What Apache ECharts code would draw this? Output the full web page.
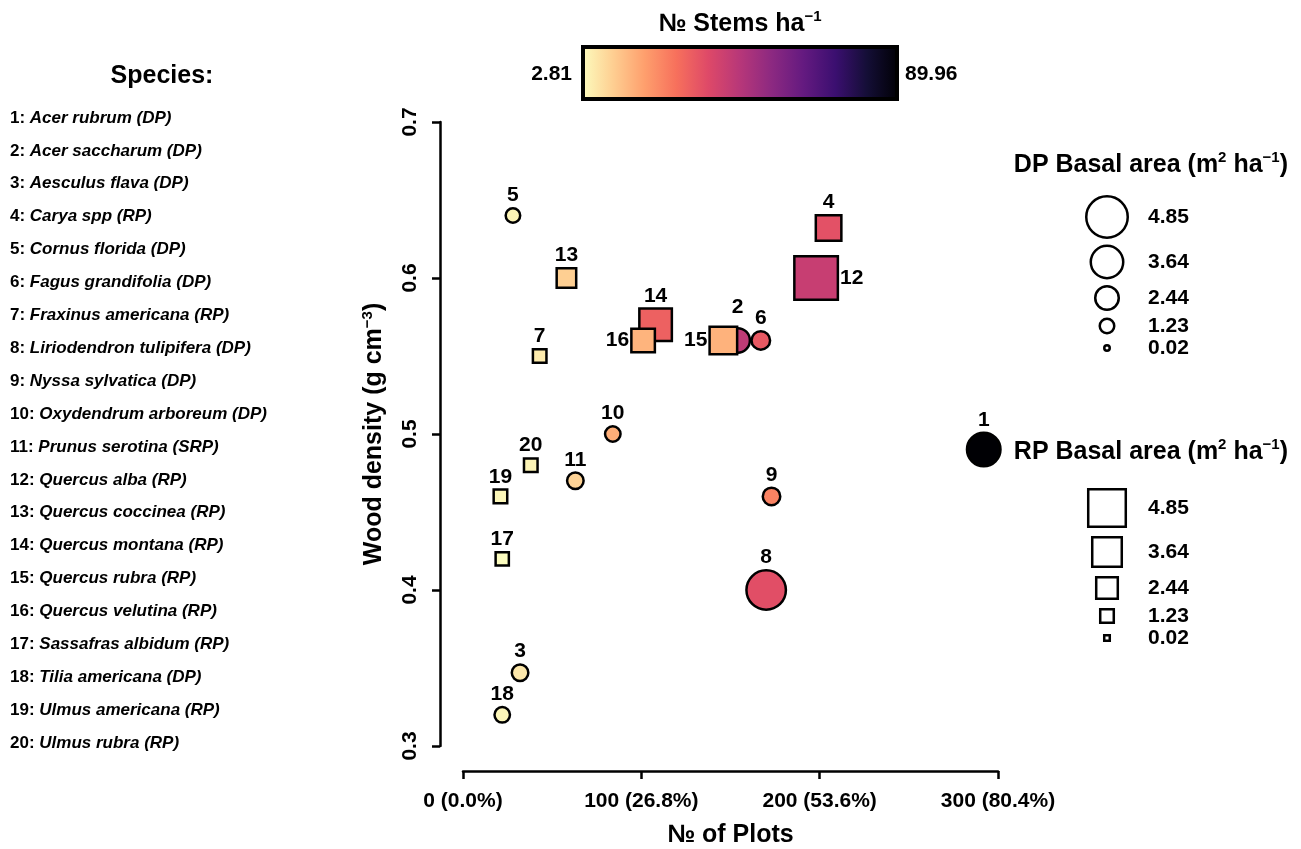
<!doctype html>
<html lang="en">
<head>
  <meta charset="UTF-8">
  <script src="https://cdn.jsdelivr.net/npm/echarts@6/dist/echarts.min.js"></script>
  <title>Wood density</title>
  <style type="text/css">
    html, body { margin: 0; padding: 0; background: #ffffff; }
    #canvas { width: 1301px; height: 849px; }
  </style>
</head>
<body>
<div id="canvas"></div>

<script type="text/javascript">
  // data
  const species = ['Acer rubrum', 'Acer saccharum', 'Aesculus flava', 'Carya spp', 'Cornus florida',
    'Fagus grandifolia', 'Fraxinus americana', 'Liriodendron tulipifera', 'Nyssa sylvatica',
    'Oxydendrum arboreum', 'Prunus serotina', 'Quercus alba', 'Quercus coccinea', 'Quercus montana',
    'Quercus rubra', 'Quercus velutina', 'Sassafras albidum', 'Tilia americana', 'Ulmus americana', 'Ulmus rubra']
  const groups = ['DP', 'DP', 'DP', 'RP', 'DP', 'DP', 'RP', 'DP', 'DP', 'DP',
    'SRP', 'RP', 'RP', 'RP', 'RP', 'RP', 'RP', 'DP', 'RP', 'RP']
  const nPlots = [292, 154, 32, 205, 28, 167, 43, 170, 173, 84, 63, 198, 58, 108, 146, 101, 22, 22, 21, 38]
  const woodDensity = [0.49, 0.56, 0.347, 0.632, 0.64, 0.56, 0.55, 0.40, 0.46, 0.50,
    0.47, 0.60, 0.60, 0.57, 0.56, 0.56, 0.42, 0.32, 0.46, 0.48]
  const basalArea = [3.78, 2.57, 1.50, 3.04, 1.23, 1.77, 1.23, 4.58, 1.63, 1.36,
    1.50, 5.75, 2.13, 4.09, 3.34, 2.73, 1.18, 1.36, 1.23, 1.23]
  const stems = [89.96, 44.6, 6.7, 35.9, 4.6, 34.2, 6.3, 36.5, 25.5, 17.6,
    10.7, 42.9, 11.5, 32.4, 16.8, 16.5, 2.81, 4.2, 4.0, 4.6]

  const xTicks = [0, 100, 200, 300]
  const xTickLabels = ['0 (0.0%)', '100 (26.8%)', '200 (53.6%)', '300 (80.4%)']
  const yTicks = [0.3, 0.4, 0.5, 0.6, 0.7]
  const legendBA = [4.85, 3.64, 2.44, 1.23, 0.02]
  const stemsRange = [2.81, 89.96]

  // magma, light -> dark
  const magma = ['#fcfdbf', '#fecf92', '#fe9f6d', '#f7705c', '#de4968', '#b73779',
    '#8c2981', '#641a80', '#3b0f70', '#140e36', '#000004']

  const FONT = "'Liberation Sans', Arial, sans-serif"
  const labelPos = { 12: 'right', 15: 'left', 16: 'left' }
  const labelDist = { 2: 9 }

  // symbol size (px) from basal area
  const sizeOf = (ba, grp) => grp === 'RP' ? 5.4 + 6.63 * ba : 5.35 + 7.45 * ba
  const supRich = (size) => ({
    b: { fontFamily: FONT, fontWeight: 'bold', fontSize: size, lineHeight: size + 6 },
    sup: { fontFamily: FONT, fontWeight: 'bold', fontSize: Math.round(size * 0.6), lineHeight: size + 6, padding: [0, 0, size * 0.55, 0] }
  })

  const canvas = document.getElementById('canvas')
  const chart = echarts.init(canvas)

  const points = species.map((s, i) => ({
    name: String(i + 1),
    value: [nPlots[i], woodDensity[i], basalArea[i], stems[i]],
    symbol: groups[i] === 'RP' ? 'rect' : 'circle',
    symbolSize: sizeOf(basalArea[i], groups[i]),
    label: { position: labelPos[i + 1] || 'top', distance: labelDist[i + 1] || 1 }
  }))

  const graphics = []

  // species list
  graphics.push({
    type: 'text', x: 162, y: 76,
    style: { text: 'Species:', font: `bold 25px ${FONT}`, textAlign: 'center', textVerticalAlign: 'middle', fill: '#000' }
  })
  species.forEach((s, i) => {
    graphics.push({
      type: 'text', x: 10, y: 118 + i * 32.9,
      style: {
        text: `{n|${i + 1}: }{s|${s} (${groups[i]})}`,
        textVerticalAlign: 'middle',
        rich: {
          n: { fontFamily: FONT, fontWeight: 'bold', fontSize: 17, fill: '#000' },
          s: { fontFamily: FONT, fontWeight: 'bold', fontStyle: 'italic', fontSize: 17, fill: '#000' }
        }
      }
    })
  })

  // colour bar
  graphics.push({
    type: 'text', x: 740, y: 24,
    style: { text: '{b|№ Stems ha}{sup|−1}', textAlign: 'center', textVerticalAlign: 'middle', rich: supRich(25) }
  })
  graphics.push({
    type: 'rect', shape: { x: 583, y: 47, width: 314, height: 52 },
    style: {
      fill: new echarts.graphic.LinearGradient(0, 0, 1, 0,
        magma.map((c, i) => ({ offset: i / (magma.length - 1), color: c }))),
      stroke: '#000', lineWidth: 4
    }
  })
  graphics.push({
    type: 'text', x: 572, y: 74,
    style: { text: String(stemsRange[0]), font: `bold 21px ${FONT}`, textAlign: 'right', textVerticalAlign: 'middle', fill: '#000' }
  })
  graphics.push({
    type: 'text', x: 905, y: 74,
    style: { text: String(stemsRange[1]), font: `bold 21px ${FONT}`, textAlign: 'left', textVerticalAlign: 'middle', fill: '#000' }
  })

  // size legends
  const dpY = [217, 262, 298, 326, 348]
  const rpY = [508, 552, 588, 616, 638]
  graphics.push({
    type: 'text', x: 1288, y: 165,
    style: { text: '{b|DP Basal area (m}{sup|2}{b| ha}{sup|−1}{b|)}', textAlign: 'right', textVerticalAlign: 'middle', rich: supRich(25) }
  })
  graphics.push({
    type: 'text', x: 1288, y: 452,
    style: { text: '{b|RP Basal area (m}{sup|2}{b| ha}{sup|−1}{b|)}', textAlign: 'right', textVerticalAlign: 'middle', rich: supRich(25) }
  })
  legendBA.forEach((v, i) => {
    const dc = sizeOf(v, 'DP')
    const dr = sizeOf(v, 'RP')
    graphics.push({
      type: 'circle', shape: { cx: 1107, cy: dpY[i], r: dc / 2 },
      style: { fill: '#fff', stroke: '#000', lineWidth: 2.5 }
    })
    graphics.push({
      type: 'rect', shape: { x: 1107 - dr / 2, y: rpY[i] - dr / 2, width: dr, height: dr },
      style: { fill: '#fff', stroke: '#000', lineWidth: 2.5 }
    })
    graphics.push({
      type: 'text', x: 1148, y: dpY[i],
      style: { text: v.toFixed(2), font: `bold 21px ${FONT}`, textVerticalAlign: 'middle', fill: '#000' }
    })
    graphics.push({
      type: 'text', x: 1148, y: rpY[i],
      style: { text: v.toFixed(2), font: `bold 21px ${FONT}`, textVerticalAlign: 'middle', fill: '#000' }
    })
  })

  const axisCommon = {
    type: 'value',
    splitLine: { show: false },
    axisLine: { show: true, onZero: false, lineStyle: { color: '#000', width: 2.5 } },
    axisTick: { show: true, length: 8, lineStyle: { color: '#000', width: 2.5 } },
    axisLabel: { color: '#000', fontFamily: FONT, fontWeight: 'bold', fontSize: 21 }
  }

  chart.setOption({
    animation: false,
    backgroundColor: '#ffffff',
    grid: { left: 463, right: 303, top: 122, bottom: 103, containLabel: false, outerBoundsMode: 'none' },
    xAxis: {
      ...axisCommon,
      min: xTicks[0], max: xTicks[xTicks.length - 1], interval: 100,
      offset: 25,
      axisLabel: { ...axisCommon.axisLabel, margin: 20, formatter: v => xTickLabels[xTicks.indexOf(v)] },
      name: '№ of Plots', nameLocation: 'middle', nameGap: 52,
      nameTextStyle: { color: '#000', fontFamily: FONT, fontWeight: 'bold', fontSize: 25 }
    },
    yAxis: {
      ...axisCommon,
      min: yTicks[0], max: yTicks[yTicks.length - 1], interval: 0.1,
      offset: 23,
      axisLabel: { ...axisCommon.axisLabel, rotate: 90, margin: 19, formatter: v => v.toFixed(1) },
      name: '{b|Wood density (g cm}{sup|−3}{b|)}', nameLocation: 'middle', nameGap: 50, nameRotate: 90,
      nameTextStyle: { rich: supRich(25) }
    },
    visualMap: {
      show: false, type: 'continuous', dimension: 3, seriesIndex: 0,
      min: stemsRange[0], max: stemsRange[1],
      inRange: { color: magma }
    },
    graphic: graphics,
    series: [{
      type: 'scatter',
      clip: false,
      data: points,
      itemStyle: { borderColor: '#000', borderWidth: 2.5, opacity: 1 },
      label: {
        show: true, formatter: '{b}',
        color: '#000', fontFamily: FONT, fontWeight: 'bold', fontSize: 21
      },
      emphasis: { disabled: true }
    }]
  })
</script>
</body>
</html>
